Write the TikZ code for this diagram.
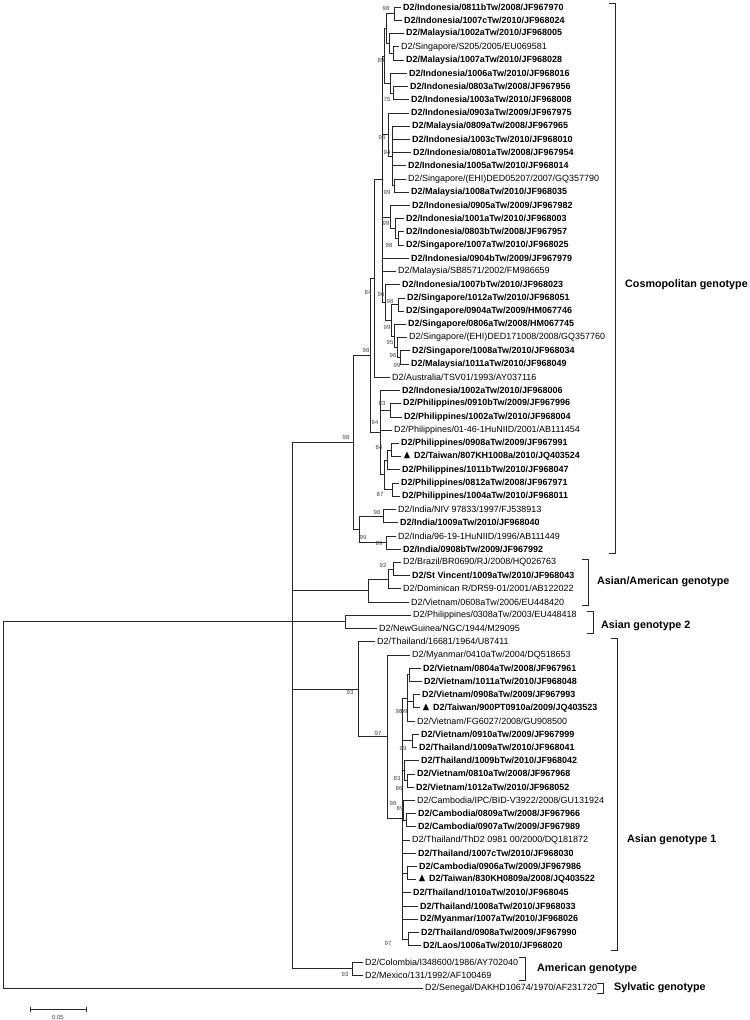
\documentclass[tikz,border=0pt]{standalone}
\usepackage{amssymb}
\usepackage{fontspec}
\setmainfont{Liberation Sans}

\tikzset{
  tip/.style={anchor=west,inner sep=2bp,font=\fontsize{9}{9}\selectfont},
  tipb/.style={tip,font=\fontsize{9}{9}\selectfont\bfseries},
  bs/.style={inner sep=0pt,font=\fontsize{6}{6}\selectfont,text=black!75},
  geno/.style={anchor=west,inner sep=0pt,font=\fontsize{10.8}{11}\selectfont\bfseries},
  br/.style={line width=0.6bp,black!85}
}
\newcommand{\tri}{{\fontsize{11}{11}\selectfont$\blacktriangle$}\hspace{3bp}}
\newcommand{\clade}[2]{\foreach \c in {#2} \draw[br] (#1) |- (\c);}

\begin{document}
\begin{tikzpicture}[x=1bp,y=-1bp]
\useasboundingbox (0,0) rectangle (750,1020);

% leaves
\node[tipb] (l1) at (401,7.0) {D2/Indonesia/0811bTw/2008/JF967970};
\node[tipb] (l2) at (402,20.2) {D2/Indonesia/1007cTw/2010/JF968024};
\node[tipb] (l3) at (404,33.4) {D2/Malaysia/1002aTw/2010/JF968005};
\node[tip] (l4) at (399,46.7) {D2/Singapore/S205/2005/EU069581};
\node[tipb] (l5) at (404,59.9) {D2/Malaysia/1007aTw/2010/JF968028};
\node[tipb] (l6) at (407,73.1) {D2/Indonesia/1006aTw/2010/JF968016};
\node[tipb] (l7) at (408,86.3) {D2/Indonesia/0803aTw/2008/JF967956};
\node[tipb] (l8) at (409,99.5) {D2/Indonesia/1003aTw/2010/JF968008};
\node[tipb] (l9) at (409,112.8) {D2/Indonesia/0903aTw/2009/JF967975};
\node[tipb] (l10) at (410,126.0) {D2/Malaysia/0809aTw/2008/JF967965};
\node[tipb] (l11) at (410,139.2) {D2/Indonesia/1003cTw/2010/JF968010};
\node[tipb] (l12) at (411,152.4) {D2/Indonesia/0801aTw/2008/JF967954};
\node[tipb] (l13) at (406,165.6) {D2/Indonesia/1005aTw/2010/JF968014};
\node[tip] (l14) at (406,178.9) {D2/Singapore/(EHI)DED05207/2007/GQ357790};
\node[tipb] (l15) at (409,192.1) {D2/Malaysia/1008aTw/2010/JF968035};
\node[tipb] (l16) at (410,205.3) {D2/Indonesia/0905aTw/2009/JF967982};
\node[tipb] (l17) at (404,218.5) {D2/Indonesia/1001aTw/2010/JF968003};
\node[tipb] (l18) at (404,231.7) {D2/Indonesia/0803bTw/2008/JF967957};
\node[tipb] (l19) at (404,245.0) {D2/Singapore/1007aTw/2010/JF968025};
\node[tipb] (l20) at (409,258.2) {D2/Indonesia/0904bTw/2009/JF967979};
\node[tip] (l21) at (396,271.4) {D2/Malaysia/SB8571/2002/FM986659};
\node[tipb] (l22) at (400,284.6) {D2/Indonesia/1007bTw/2010/JF968023};
\node[tipb] (l23) at (405,297.8) {D2/Singapore/1012aTw/2010/JF968051};
\node[tipb] (l24) at (404,311.1) {D2/Singapore/0904aTw/2009/HM067746};
\node[tipb] (l25) at (406,324.3) {D2/Singapore/0806aTw/2008/HM067745};
\node[tip] (l26) at (407,337.5) {D2/Singapore/(EHI)DED171008/2008/GQ357760};
\node[tipb] (l27) at (410,350.7) {D2/Singapore/1008aTw/2010/JF968034};
\node[tipb] (l28) at (409,363.9) {D2/Malaysia/1011aTw/2010/JF968049};
\node[tip] (l29) at (390,377.2) {D2/Australia/TSV01/1993/AY037116};
\node[tipb] (l30) at (400,390.4) {D2/Indonesia/1002aTw/2010/JF968006};
\node[tipb] (l31) at (401,403.6) {D2/Philippines/0910bTw/2009/JF967996};
\node[tipb] (l32) at (402,416.8) {D2/Philippines/1002aTw/2010/JF968004};
\node[tip] (l33) at (392,430.0) {D2/Philippines/01-46-1HuNIID/2001/AB111454};
\node[tipb] (l34) at (399,443.3) {D2/Philippines/0908aTw/2009/JF967991};
\node[tipb] (l35) at (401,456.5) {\tri D2/Taiwan/807KH1008a/2010/JQ403524};
\node[tipb] (l36) at (400,469.7) {D2/Philippines/1011bTw/2010/JF968047};
\node[tipb] (l37) at (399,482.9) {D2/Philippines/0812aTw/2008/JF967971};
\node[tipb] (l38) at (400,496.1) {D2/Philippines/1004aTw/2010/JF968011};
\node[tip] (l39) at (396,509.4) {D2/India/NIV 97833/1997/FJ538913};
\node[tipb] (l40) at (398,522.6) {D2/India/1009aTw/2010/JF968040};
\node[tip] (l41) at (396,535.8) {D2/India/96-19-1HuNIID/1996/AB111449};
\node[tipb] (l42) at (401,549.0) {D2/India/0908bTw/2009/JF967992};
\node[tip] (l43) at (401,562.2) {D2/Brazil/BR0690/RJ/2008/HQ026763};
\node[tipb] (l44) at (410,575.5) {D2/St Vincent/1009aTw/2010/JF968043};
\node[tip] (l45) at (401,588.7) {D2/Dominican R/DR59-01/2001/AB122022};
\node[tip] (l46) at (409,601.9) {D2/Vietnam/0608aTw/2006/EU448420};
\node[tip] (l47) at (411,615.1) {D2/Philippines/0308aTw/2003/EU448418};
\node[tip] (l48) at (377,628.3) {D2/NewGuinea/NGC/1944/M29095};
\node[tip] (l49) at (375,641.6) {D2/Thailand/16681/1964/U87411};
\node[tip] (l50) at (410,654.8) {D2/Myanmar/0410aTw/2004/DQ518653};
\node[tipb] (l51) at (421,668.0) {D2/Vietnam/0804aTw/2008/JF967961};
\node[tipb] (l52) at (422,681.2) {D2/Vietnam/1011aTw/2010/JF968048};
\node[tipb] (l53) at (420,694.4) {D2/Vietnam/0908aTw/2009/JF967993};
\node[tipb] (l54) at (420,707.7) {\tri D2/Taiwan/900PT0910a/2009/JQ403523};
\node[tip] (l55) at (415,720.9) {D2/Vietnam/FG6027/2008/GU908500};
\node[tipb] (l56) at (419,734.1) {D2/Vietnam/0910aTw/2009/JF967999};
\node[tipb] (l57) at (417,747.3) {D2/Thailand/1009aTw/2010/JF968041};
\node[tipb] (l58) at (419,760.5) {D2/Thailand/1009bTw/2010/JF968042};
\node[tipb] (l59) at (415,773.8) {D2/Vietnam/0810aTw/2008/JF967968};
\node[tipb] (l60) at (414,787.0) {D2/Vietnam/1012aTw/2010/JF968052};
\node[tip] (l61) at (415,800.2) {D2/Cambodia/IPC/BID-V3922/2008/GU131924};
\node[tipb] (l62) at (416,813.4) {D2/Cambodia/0809aTw/2008/JF967966};
\node[tipb] (l63) at (416,826.6) {D2/Cambodia/0907aTw/2009/JF967989};
\node[tip] (l64) at (410,839.9) {D2/Thailand/ThD2 0981 00/2000/DQ181872};
\node[tipb] (l65) at (416,853.1) {D2/Thailand/1007cTw/2010/JF968030};
\node[tipb] (l66) at (417,866.3) {D2/Cambodia/0906aTw/2009/JF967986};
\node[tipb] (l67) at (416,879.5) {\tri D2/Taiwan/830KH0809a/2008/JQ403522};
\node[tipb] (l68) at (411,892.7) {D2/Thailand/1010aTw/2010/JF968045};
\node[tipb] (l69) at (418,906.0) {D2/Thailand/1008aTw/2010/JF968033};
\node[tipb] (l70) at (418,919.2) {D2/Myanmar/1007aTw/2010/JF968026};
\node[tipb] (l71) at (419,932.4) {D2/Thailand/0908aTw/2009/JF967990};
\node[tipb] (l72) at (421,945.6) {D2/Laos/1006aTw/2010/JF968020};
\node[tip] (l73) at (363,962.0) {D2/Colombia/I348600/1986/AY702040};
\node[tip] (l74) at (363,975.0) {D2/Mexico/131/1992/AF100469};
\node[tip] (l75) at (423,988.0) {D2/Senegal/DAKHD10674/1970/AF231720};

% inner nodes, cosmopolitan
\coordinate (a1) at (394,13.6);
\coordinate (a2) at (393,53.3);
\coordinate (a3) at (389,43.4);
\coordinate (a4) at (386,28.5);
\coordinate (a5) at (393,92.9);
\coordinate (a6) at (390,83.0);
\coordinate (aA) at (384,55.8);
\coordinate (b1) at (394,185.5);
\coordinate (b2) at (392,155.8);
\coordinate (b3) at (388,134.3);
\coordinate (c1) at (398,238.4);
\coordinate (c2) at (395,228.5);
\coordinate (c3) at (390,216.9);
\coordinate (s1) at (398,304.5);
\coordinate (s5) at (400,357.3);
\coordinate (s4) at (397,347.4);
\coordinate (s3) at (394,335.9);
\coordinate (s2) at (391,320.2);
\coordinate (s0) at (385,302.4);
\coordinate (T) at (382,179.1);
\coordinate (K1) at (374,278.2);
\coordinate (p1) at (390,410.2);
\coordinate (p2a) at (391,449.9);
\coordinate (p2) at (387,459.8);
\coordinate (p3) at (392,489.5);
\coordinate (p4) at (384,474.7);
\coordinate (K2) at (380,432.6);
\coordinate (X) at (370,355.4);
\coordinate (i1) at (383,516.0);
\coordinate (i2) at (386,542.4);
\coordinate (I) at (359,529.2);
\coordinate (Cz) at (353,442.3);
% asian/american, asian 2
\coordinate (aa1) at (393,568.9);
\coordinate (aa2) at (388,578.8);
\coordinate (AA) at (368,590.4);
\coordinate (A2) at (345,621.7);
% asian 1
\coordinate (v1a) at (409,674.6);
\coordinate (v1b) at (413,701.1);
\coordinate (v1) at (407,697.8);
\coordinate (v2) at (412,740.7);
\coordinate (v3) at (407,780.4);
\coordinate (v3p) at (404,770.5);
\coordinate (cm1) at (406,820.0);
\coordinate (cm2) at (403,810.1);
\coordinate (cm3) at (407,872.9);
\coordinate (cm4) at (408,939.0);
\coordinate (R2) at (402,818.4);
\coordinate (R1) at (387,736.6);
\coordinate (As1) at (358,689.1);
% american and deep nodes
\coordinate (Am) at (352,968.5);
\coordinate (nA) at (292,621.7);
\coordinate (root) at (3,621.7);

% branches
\clade{a1}{l1.west,l2.west}
\clade{a2}{l4.west,l5.west}
\clade{a3}{l3.west,a2}
\clade{a4}{a1,a3}
\clade{a5}{l7.west,l8.west}
\clade{a6}{l6.west,a5}
\clade{aA}{a4,a6}
\clade{b1}{l14.west,l15.west}
\clade{b2}{l10.west,l11.west,l12.west,l13.west,b1}
\clade{b3}{l9.west,b2}
\clade{c1}{l18.west,l19.west}
\clade{c2}{l17.west,c1}
\clade{c3}{l16.west,c2}
\clade{s1}{l23.west,l24.west}
\clade{s5}{l27.west,l28.west}
\clade{s4}{l26.west,s5}
\clade{s3}{l25.west,s4}
\clade{s2}{s1,s3}
\clade{s0}{l22.west,s2}
\clade{T}{aA,b3,c3,l20.west,l21.west,s0}
\clade{K1}{T,l29.west}
\clade{p1}{l31.west,l32.west}
\clade{p2a}{l34.west,l35.west}
\clade{p2}{p2a,l36.west}
\clade{p3}{l37.west,l38.west}
\clade{p4}{p2,p3}
\clade{K2}{l30.west,p1,l33.west,p4}
\clade{X}{K1,K2}
\clade{i1}{l39.west,l40.west}
\clade{i2}{l41.west,l42.west}
\clade{I}{i1,i2}
\clade{Cz}{X,I}
\clade{aa1}{l43.west,l44.west}
\clade{aa2}{aa1,l45.west}
\clade{AA}{aa2,l46.west}
\clade{A2}{l47.west,l48.west}
\clade{v1a}{l51.west,l52.west}
\clade{v1b}{l53.west,l54.west}
\clade{v1}{v1a,v1b,l55.west}
\clade{v2}{l56.west,l57.west}
\clade{v3}{l59.west,l60.west}
\clade{v3p}{l58.west,v3}
\clade{cm1}{l62.west,l63.west}
\clade{cm2}{l61.west,cm1}
\clade{cm3}{l66.west,l67.west}
\clade{cm4}{l71.west,l72.west}
\clade{R2}{v1,v2,v3p,cm2,l64.west,l65.west,cm3,l68.west,l69.west,l70.west,cm4}
\clade{R1}{l50.west,R2}
\clade{As1}{l49.west,R1}
\clade{Am}{l73.west,l74.west}
\clade{nA}{Cz,AA,A2,As1,Am}
\clade{root}{nA,l75.west}

% bootstrap values
\node[bs] (bt1) at (386,8) {98};
\node[bs] (bt2) at (381,60) {89};
\node[bs] (bt3) at (387,99) {75};
\node[bs] (bt4) at (382,137) {96};
\node[bs] (bt5) at (387,152) {94};
\node[bs] (bt6) at (387,192) {99};
\node[bs] (bt7) at (386,223) {99};
\node[bs] (bt8) at (389,245) {98};
\node[bs] (bt9) at (368,292) {84};
\node[bs] (bt10) at (381,294) {96};
\node[bs] (bt11) at (390,301) {98};
\node[bs] (bt12) at (387,327) {99};
\node[bs] (bt13) at (390,342) {95};
\node[bs] (bt14) at (393,355) {96};
\node[bs] (bt15) at (397,365) {99};
\node[bs] (bt16) at (366,350) {98};
\node[bs] (bt17) at (382,403) {83};
\node[bs] (bt18) at (375,422) {94};
\node[bs] (bt19) at (379,447) {84};
\node[bs] (bt20) at (380,494) {87};
\node[bs] (bt21) at (377,512) {98};
\node[bs] (bt22) at (363,537) {99};
\node[bs] (bt23) at (379,543) {99};
\node[bs] (bt24) at (346,437) {98};
\node[bs] (bt25) at (383,565) {92};
\node[bs] (bt26) at (350,692) {93};
\node[bs] (bt27) at (399,711) {98};
\node[bs] (bt28) at (404,711) {99};
\node[bs] (bt29) at (378,733) {97};
\node[bs] (bt30) at (403,748) {99};
\node[bs] (bt31) at (397,778) {83};
\node[bs] (bt32) at (399,788) {86};
\node[bs] (bt33) at (393,803) {98};
\node[bs] (bt34) at (400,808) {89};
\node[bs] (bt35) at (388,943) {97};
\node[bs] (bt36) at (345,974) {93};

% genotype brackets
\draw[br] (609,3) -- (615,3) -- (615,553) -- (609,553);
\node[geno] (g1) at (625,285) {Cosmopolitan genotype};
\draw[br] (582,559) -- (588,559) -- (588,605) -- (582,605);
\node[geno] (g2) at (597,582) {Asian/American genotype};
\draw[br] (587,611) -- (593,611) -- (593,633) -- (587,633);
\node[geno] (g3) at (601,626) {Asian genotype 2};
\draw[br] (611,638) -- (617,638) -- (617,950) -- (611,950);
\node[geno] (g4) at (627,840) {Asian genotype 1};
\draw[br] (519,957) -- (525,957) -- (525,980) -- (519,980);
\node[geno] (g5) at (537,969) {American genotype};
\draw[br] (597,983) -- (603,983) -- (603,993) -- (597,993);
\node[geno] (g6) at (614,988) {Sylvatic genotype};

% scale bar
\draw[br] (30,1009) -- (86,1009);
\draw[br] (30,1006.5) -- (30,1011.5);
\draw[br] (86,1006.5) -- (86,1011.5);
\node[bs] (sc) at (58,1017) {0.05};
\end{tikzpicture}
\end{document}
